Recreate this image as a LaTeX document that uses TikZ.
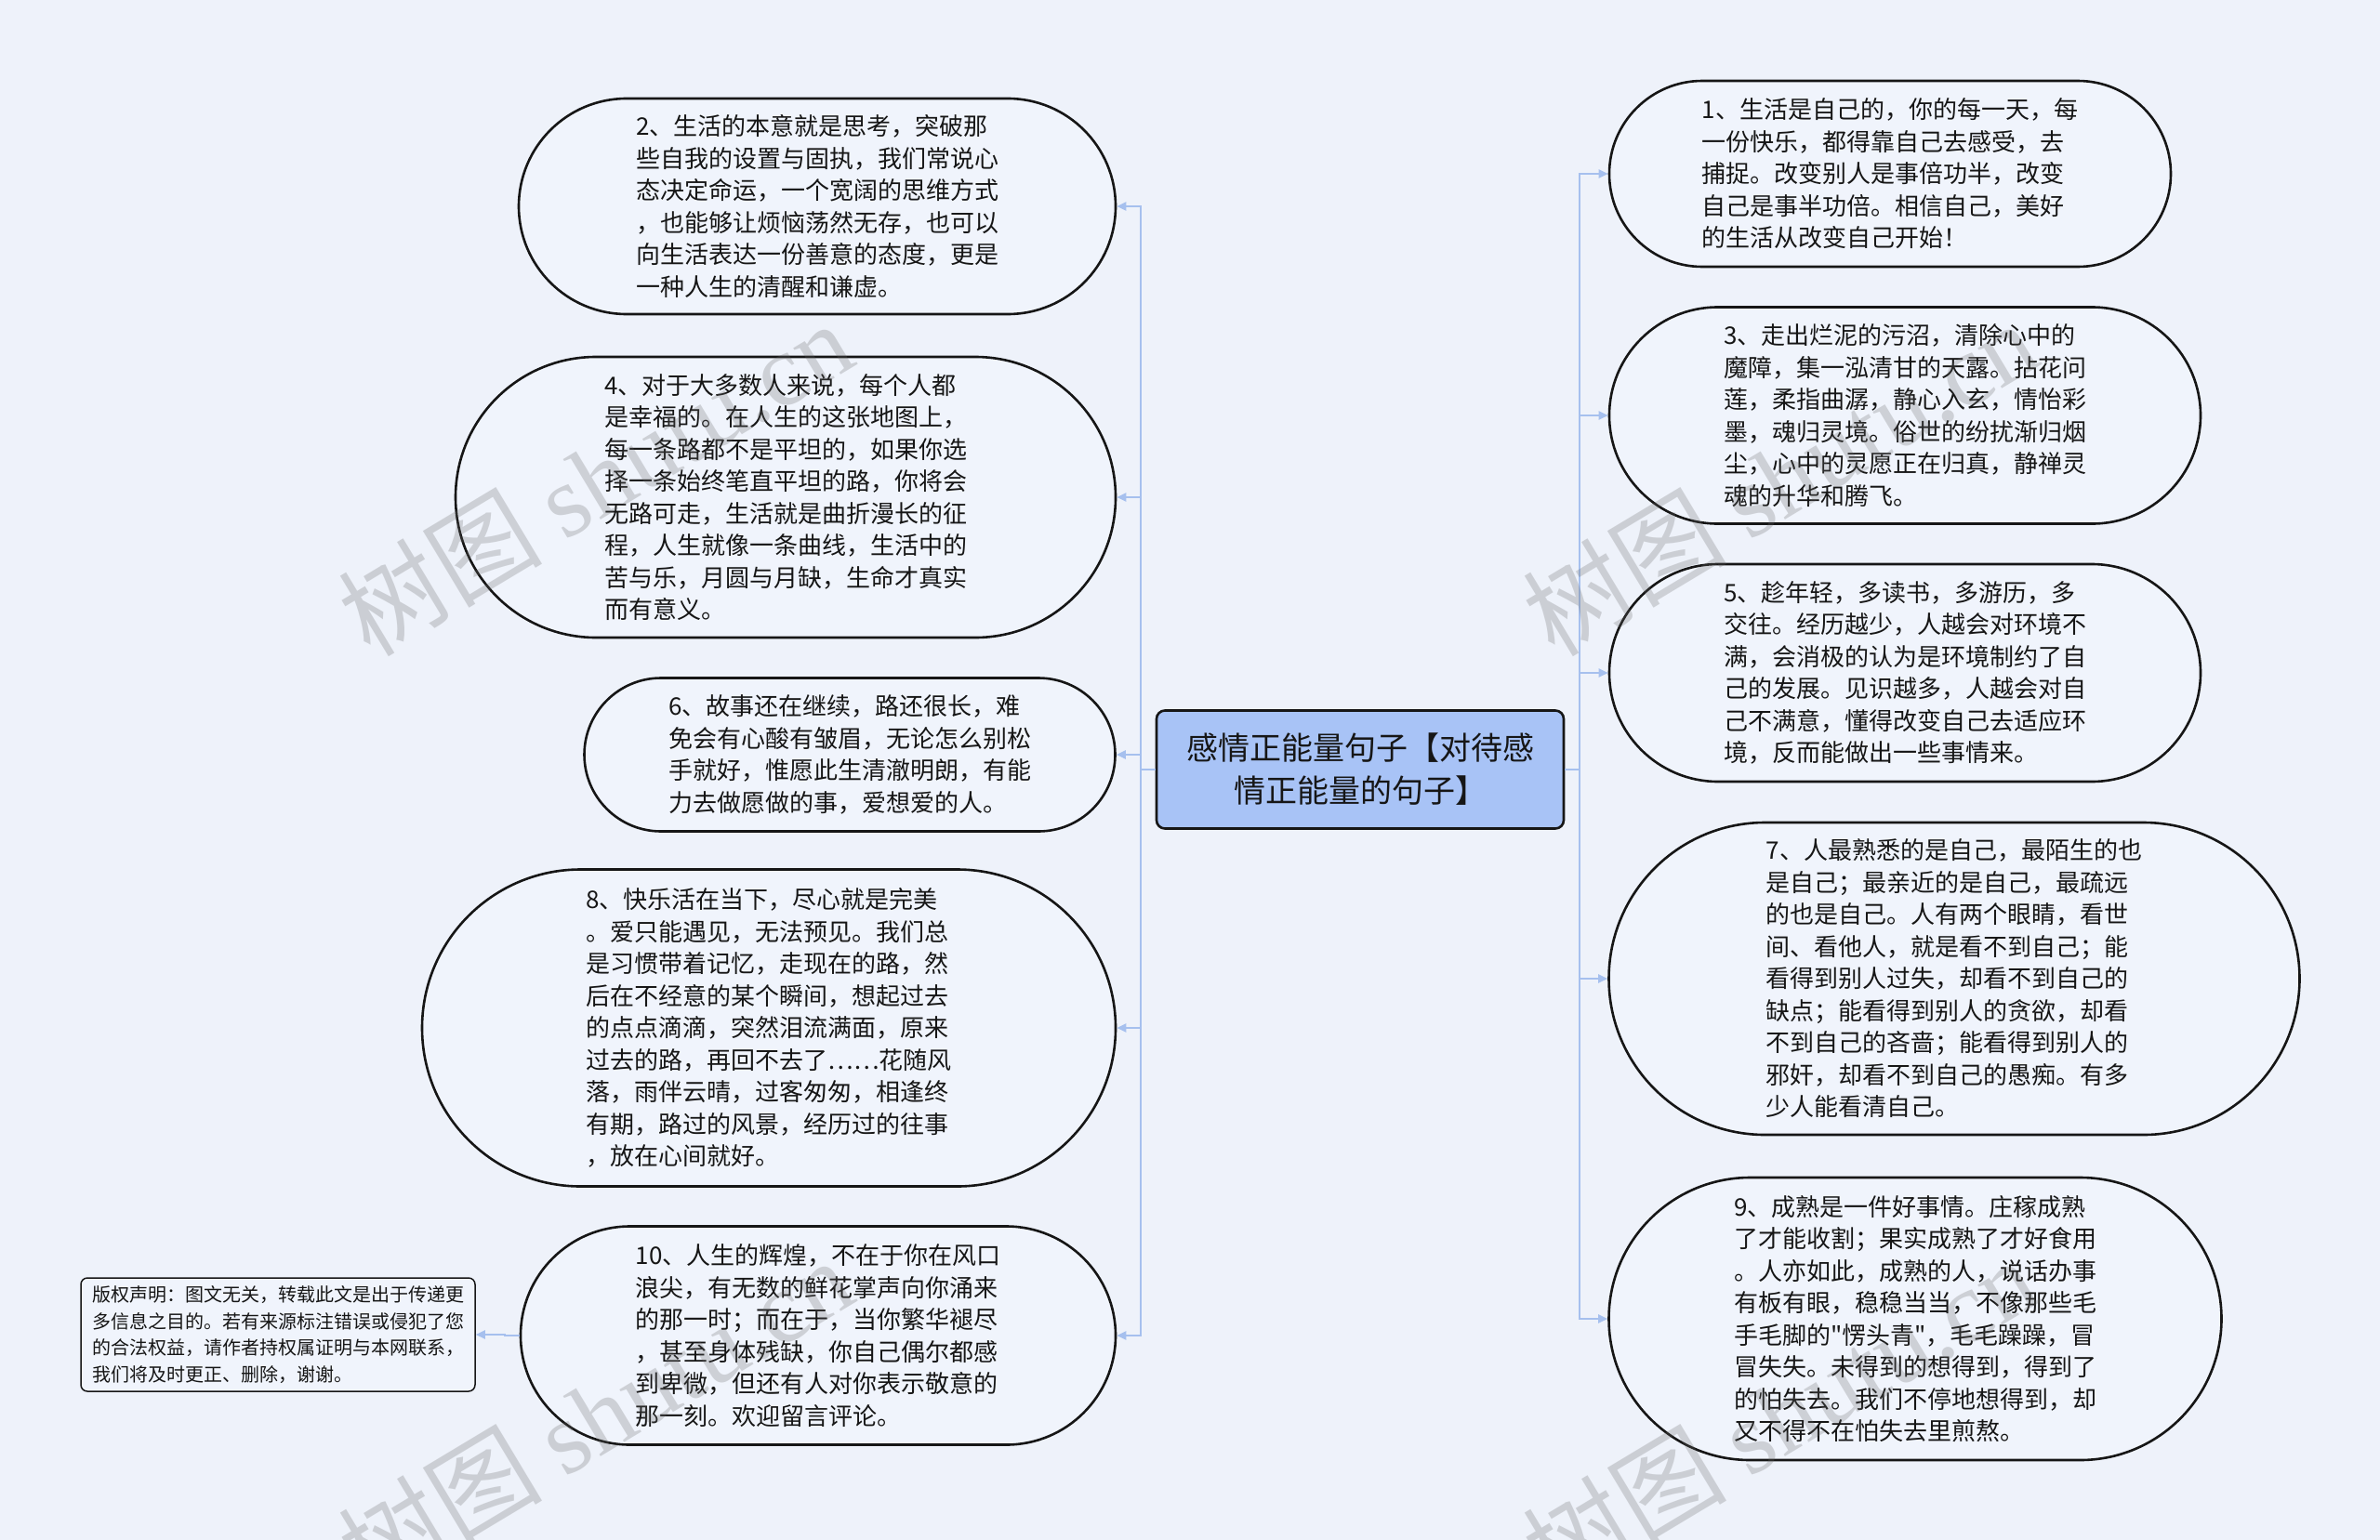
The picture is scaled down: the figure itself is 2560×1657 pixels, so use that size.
\documentclass[tikz,border=0pt]{standalone}
\usepackage{fontspec}
\setmainfont{Noto Sans CJK SC}[Ligatures=TeXOff]
\newfontfamily\wmserif{Liberation Serif}
\usepackage{xcolor}
\usepackage{tikz}
\usetikzlibrary{arrows.meta}
\definecolor{Ink}{HTML}{161616}
\definecolor{PageBg}{HTML}{EEF2FA}
\definecolor{LeafFill}{HTML}{F0F4FC}
\definecolor{HubFill}{HTML}{A8C3F6}
\definecolor{Link}{HTML}{A6C0EE}

\begin{document}
\begin{tikzpicture}[x=1pt,y=-1pt,
    leaf/.style 2 args={draw=Ink,line width=2.6pt,fill=LeafFill,text=Ink,
      font=\fontsize{26}{34.5}\selectfont,align=left,inner sep=0pt,
      minimum width=#1pt,minimum height=#2pt,rounded corners=#2pt/2},
    hub/.style={draw=Ink,line width=2.6pt,fill=HubFill,text=Ink,
      font=\fontsize{34}{46}\selectfont,align=center,inner sep=0pt,
      minimum width=438pt,minimum height=127pt,rounded corners=9pt},
    note/.style={draw=Ink,line width=1.5pt,fill=LeafFill,text=Ink,
      font=\fontsize{20}{28.5}\selectfont,align=left,inner sep=0pt,
      minimum width=424pt,minimum height=122pt,rounded corners=7pt},
    link/.style={draw=Link,line width=2pt,-{Triangle[length=10pt,width=9pt]}},
    wmark/.style={text=black!60,opacity=0.25,font=\fontsize{110}{110}\selectfont,rotate=31}]
  \useasboundingbox (0,0) rectangle (2560,1657);
  \fill[PageBg] (0,0) rectangle (2560,1657);
  % centre
  \node[hub] (hub) at (1463,828) {感情正能量句子【对待感\\情正能量的句子】};
  % left branch
  \node[leaf={642}{232}] (n2) at (879,222) {2、生活的本意就是思考，突破那\\
    些自我的设置与固执，我们常说心\\
    态决定命运，一个宽阔的思维方式\\
    ，也能够让烦恼荡然无存，也可以\\
    向生活表达一份善意的态度，更是\\
    一种人生的清醒和谦虚。};
  \node[leaf={710}{302}] (n4) at (845,535) {4、对于大多数人来说，每个人都\\
    是幸福的。在人生的这张地图上，\\
    每一条路都不是平坦的，如果你选\\
    择一条始终笔直平坦的路，你将会\\
    无路可走，生活就是曲折漫长的征\\
    程，人生就像一条曲线，生活中的\\
    苦与乐，月圆与月缺，生命才真实\\
    而有意义。};
  \node[leaf={571}{165}] (n6) at (914,812) {6、故事还在继续，路还很长，难\\
    免会有心酸有皱眉，无论怎么别松\\
    手就好，惟愿此生清澈明朗，有能\\
    力去做愿做的事，爱想爱的人。};
  \node[leaf={746}{341}] (n8) at (827,1106) {8、快乐活在当下，尽心就是完美\\
    。爱只能遇见，无法预见。我们总\\
    是习惯带着记忆，走现在的路，然\\
    后在不经意的某个瞬间，想起过去\\
    的点点滴滴，突然泪流满面，原来\\
    过去的路，再回不去了……花随风\\
    落，雨伴云晴，过客匆匆，相逢终\\
    有期，路过的风景，经历过的往事\\
    ，放在心间就好。};
  \node[leaf={640}{235}] (n10) at (880,1437) {10、人生的辉煌，不在于你在风口\\
    浪尖，有无数的鲜花掌声向你涌来\\
    的那一时；而在于，当你繁华褪尽\\
    ，甚至身体残缺，你自己偶尔都感\\
    到卑微，但还有人对你表示敬意的\\
    那一刻。欢迎留言评论。};
  \node[note] (copy) at (299,1436) {版权声明：图文无关，转载此文是出于传递更\\
    多信息之目的。若有来源标注错误或侵犯了您\\
    的合法权益，请作者持权属证明与本网联系，\\
    我们将及时更正、删除，谢谢。};
  % right branch
  \node[leaf={604}{200}] (n1) at (2033,187) {1、生活是自己的，你的每一天，每\\
    一份快乐，都得靠自己去感受，去\\
    捕捉。改变别人是事倍功半，改变\\
    自己是事半功倍。相信自己，美好\\
    的生活从改变自己开始！};
  \node[leaf={636}{233}] (n3) at (2049,447) {3、走出烂泥的污沼，清除心中的\\
    魔障，集一泓清甘的天露。拈花问\\
    莲，柔指曲潺，静心入玄，情怡彩\\
    墨，魂归灵境。俗世的纷扰渐归烟\\
    尘，心中的灵愿正在归真，静禅灵\\
    魂的升华和腾飞。};
  \node[leaf={636}{234}] (n5) at (2049,724) {5、趁年轻，多读书，多游历，多\\
    交往。经历越少，人越会对环境不\\
    满，会消极的认为是环境制约了自\\
    己的发展。见识越多，人越会对自\\
    己不满意，懂得改变自己去适应环\\
    境，反而能做出一些事情来。};
  \node[leaf={743}{336}] (n7) at (2102,1053) {7、人最熟悉的是自己，最陌生的也\\
    是自己；最亲近的是自己，最疏远\\
    的也是自己。人有两个眼睛，看世\\
    间、看他人，就是看不到自己；能\\
    看得到别人过失，却看不到自己的\\
    缺点；能看得到别人的贪欲，却看\\
    不到自己的吝啬；能看得到别人的\\
    邪奸，却看不到自己的愚痴。有多\\
    少人能看清自己。};
  \node[leaf={659}{304}] (n9) at (2060,1419) {9、成熟是一件好事情。庄稼成熟\\
    了才能收割；果实成熟了才好食用\\
    。人亦如此，成熟的人，说话办事\\
    有板有眼，稳稳当当，不像那些毛\\
    手毛脚的"愣头青"，毛毛躁躁，冒\\
    冒失失。未得到的想得到，得到了\\
    的怕失去。我们不停地想得到，却\\
    又不得不在怕失去里煎熬。};
  % connectors
  \foreach \n in {n2,n4,n6,n8,n10}
    \draw[link] (hub.west) -- ++(-16,0) |- (\n.east);
  \foreach \n in {n1,n3,n5,n7,n9}
    \draw[link] (hub.east) -- ++(16,0) |- (\n.west);
  \draw[link] (n10.west) -- ++(-16,0) |- (copy.east);
  % watermarks
  \begin{scope}
    \clip (0,0) rectangle (2560,1657);
    \node[wmark] (wm1) at (640,514) {树图 {\wmserif shutu.cn}};
    \node[wmark] (wm2) at (1914,514) {树图 {\wmserif shutu.cn}};
    \node[wmark] (wm3) at (640,1522) {树图 {\wmserif shutu.cn}};
    \node[wmark] (wm4) at (1914,1522) {树图 {\wmserif shutu.cn}};
  \end{scope}
\end{tikzpicture}
\end{document}
